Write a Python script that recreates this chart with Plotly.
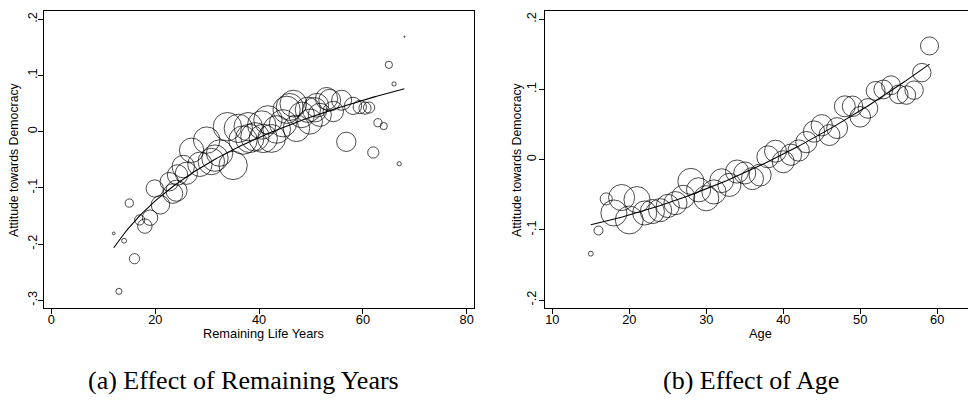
import numpy as np
import plotly.graph_objects as go

# Panel (a): attitude towards democracy by remaining life years (cell means)
rem_years = [12.0, 13.0, 14.0, 15.0, 16.0, 17.0, 18.0, 19.0, 19.9, 21.0,
             22.7, 23.4, 24.1, 24.3, 25.4, 26.0, 27.0, 28.6, 29.9, 30.8,
             31.5, 32.4, 33.9, 35.0, 36.0, 36.9, 37.9, 38.2, 39.2, 40.5,
             40.8, 41.7, 42.4, 43.4, 44.6, 45.3, 45.9, 46.6, 47.2, 48.2,
             49.4, 49.8, 50.7, 51.1, 51.7, 53.0, 53.6, 54.3, 55.9, 56.8,
             58.1, 59.4, 60.4, 61.2, 62.0, 62.9, 64.0, 65.0, 66.0, 67.0, 68.0]
rem_attitude = [-0.181, -0.284, -0.194, -0.127, -0.226, -0.157, -0.168, -0.153, -0.101, -0.130,
                -0.089, -0.110, -0.105, -0.077, -0.062, -0.074, -0.033, -0.058, -0.015, -0.053,
                -0.047, -0.038, 0.009, -0.060, 0.006, -0.015, 0.009, -0.012, -0.009, 0.012,
                -0.012, 0.021, -0.012, 0.004, 0.015, 0.039, 0.044, 0.050, 0.006, 0.030,
                0.039, 0.018, 0.039, 0.047, 0.030, 0.059, 0.056, 0.036, 0.056, -0.018,
                0.046, 0.044, 0.042, 0.043, -0.037, 0.016, 0.010, 0.119, 0.085, -0.057, 0.169]
rem_weight = [5, 25, 16, 45, 70, 70, 140, 160, 200, 230,
              230, 260, 300, 280, 340, 330, 400, 400, 470, 470,
              470, 470, 540, 540, 540, 540, 540, 540, 540, 540,
              540, 540, 520, 510, 500, 500, 490, 480, 470, 440,
              430, 420, 400, 380, 360, 330, 320, 280, 270, 250,
              200, 120, 100, 85, 85, 45, 35, 35, 12, 12, 1]

# Panel (b): attitude towards democracy by age (cell means)
age = list(range(15, 60))
age_attitude = [-0.134, -0.101, -0.056, -0.076, -0.054, -0.086, -0.057, -0.076, -0.074, -0.072,
                -0.066, -0.062, -0.053, -0.031, -0.043, -0.055, -0.046, -0.030, -0.036, -0.017,
                -0.019, -0.027, -0.022, 0.004, 0.012, -0.003, 0.007, 0.013, 0.025, 0.040,
                0.049, 0.035, 0.045, 0.076, 0.076, 0.061, 0.073, 0.098, 0.100, 0.106,
                0.093, 0.092, 0.099, 0.124, 0.162]
age_weight = [30, 100, 180, 840, 840, 960, 840, 720, 720, 660,
              660, 660, 660, 840, 720, 780, 720, 700, 660, 660,
              600, 600, 600, 600, 600, 600, 560, 560, 560, 560,
              560, 540, 540, 540, 520, 520, 480, 440, 440, 440,
              430, 420, 420, 420, 400]

rem_xticks = [0, 20, 40, 60, 80]
rem_yticks = [-0.3, -0.2, -0.1, 0.0, 0.1, 0.2]
age_xticks = [10, 20, 30, 40, 50, 60]
age_yticks = [-0.2, -0.1, 0.0, 0.1, 0.2]


def stata_label(v):
    s = f"{v:.1f}".rstrip("0").rstrip(".")
    return s.replace("0.", ".") if s not in ("0", "-0") else "0"


def log_fit(x, y, n=200):
    """Prediction line from a regression of y on ln(x)."""
    x = np.asarray(x, float)
    coef = np.polyfit(np.log(x), np.asarray(y, float), 1)
    xs = np.linspace(x.min(), x.max(), n)
    return xs, np.polyval(coef, np.log(xs))


def quad_fit(x, y, n=200):
    """Quadratic prediction line over the observed range of x."""
    x = np.asarray(x, float)
    coef = np.polyfit(x, np.asarray(y, float), 2)
    xs = np.linspace(x.min(), x.max(), n)
    return xs, np.polyval(coef, xs)


def bubble_size(w, scale):
    return scale * np.sqrt(np.asarray(w, float))


W, H = 968, 403
font = "Liberation Sans, Arial, sans-serif"
fig = go.Figure()

fig.add_trace(go.Scatter(
    x=rem_years, y=rem_attitude, mode="markers", xaxis="x", yaxis="y",
    marker=dict(symbol="circle-open", size=bubble_size(rem_weight, 1.22),
                color="black", line=dict(width=1, color="black")),
    showlegend=False, hoverinfo="skip"))
fx, fy = log_fit(rem_years, rem_attitude)
fig.add_trace(go.Scatter(x=fx, y=fy, mode="lines", xaxis="x", yaxis="y",
                         line=dict(color="black", width=1.1), showlegend=False))

fig.add_trace(go.Scatter(
    x=age, y=age_attitude, mode="markers", xaxis="x2", yaxis="y2",
    marker=dict(symbol="circle-open", size=bubble_size(age_weight, 0.9),
                color="black", line=dict(width=1, color="black")),
    showlegend=False, hoverinfo="skip"))
gx, gy = quad_fit(age, age_attitude)
fig.add_trace(go.Scatter(x=gx, y=gy, mode="lines", xaxis="x2", yaxis="y2",
                         line=dict(color="black", width=1.1), showlegend=False))


def px(v):
    return v / W


def py(v):
    return 1 - v / H


axis_common = dict(showgrid=False, zeroline=False, showline=True, linecolor="black",
                   linewidth=1, ticks="outside", ticklen=5, tickwidth=1, tickcolor="black",
                   tickfont=dict(family=font, size=12.8, color="black"))

fig.update_layout(
    width=W, height=H, margin=dict(l=0, r=0, t=0, b=0),
    paper_bgcolor="white", plot_bgcolor="white",
    xaxis=dict(domain=[px(44), px(474)], range=[-1.43, 81.4], tickvals=rem_xticks,
               ticktext=[str(t) for t in rem_xticks], mirror=True, anchor="y",
               ticklabelstandoff=-5, **axis_common),
    yaxis=dict(domain=[py(308), py(11)], range=[-0.3137, 0.2148], tickvals=rem_yticks,
               ticktext=[stata_label(t) for t in rem_yticks], tickangle=-90, mirror=True,
               anchor="x", ticklabelstandoff=-4, **axis_common),
    xaxis2=dict(domain=[px(545), 1.0], range=[9.05, 64.0], tickvals=age_xticks,
                ticktext=[str(t) for t in age_xticks], mirror=True, anchor="y2",
                ticklabelstandoff=-5, **axis_common),
    yaxis2=dict(domain=[py(308), py(11)], range=[-0.2114, 0.2118], tickvals=age_yticks,
                ticktext=[stata_label(t) for t in age_yticks], tickangle=-90, mirror=False,
                anchor="x2", ticklabelstandoff=-2, **axis_common),
)

xtitle_font = dict(family=font, size=12.8, color="black")
ytitle_font = dict(family=font, size=12.3, color="black")
cap_font = dict(family="Liberation Serif, Times New Roman, serif", size=26, color="black")
notes = [
    dict(text="Remaining Life Years", x=px(263), y=py(333), font=xtitle_font),
    dict(text="Age", x=px(760), y=py(333), font=xtitle_font),
    dict(text="Attitude towards Democracy", x=px(14), y=py(160), font=ytitle_font, textangle=-90),
    dict(text="Attitude towards Democracy", x=px(517), y=py(160), font=ytitle_font, textangle=-90),
    dict(text="(a) Effect of Remaining Years", x=px(243), y=py(380), font=cap_font),
    dict(text="(b) Effect of Age", x=px(751), y=py(380), font=cap_font),
]
for n in notes:
    fig.add_annotation(xref="paper", yref="paper", showarrow=False,
                       xanchor="center", yanchor="middle", **n)

fig.write_html("out.html")
